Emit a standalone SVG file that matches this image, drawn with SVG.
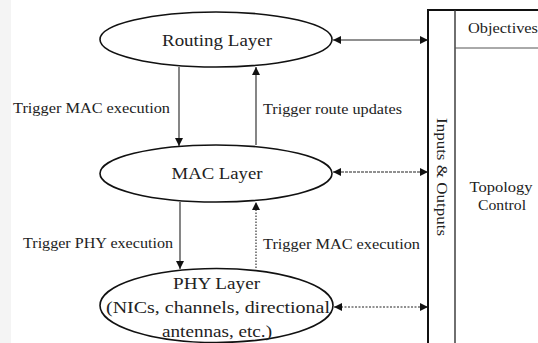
<svg xmlns="http://www.w3.org/2000/svg" width="538" height="343" viewBox="0 0 538 343">
<style>
text{font-family:"Liberation Serif","Times New Roman",serif;fill:#222}
.lbl{font-size:14px}
.big{font-size:16px}
.node{fill:#fff;stroke:#111;stroke-width:1.6}
.ln{stroke:#222;stroke-width:1.1;fill:none}
</style>
<defs>
<marker id="ah" viewBox="0 0 10 10" refX="10" refY="5" markerWidth="9" markerHeight="8" markerUnits="userSpaceOnUse" orient="auto-start-reverse">
<path d="M0,0 L10,5 L0,10 z" fill="#111"/>
</marker>
</defs>
<rect x="0" y="0" width="538" height="343" fill="#fff"/>
<rect x="0" y="0" width="11" height="343" fill="#f4f4f4"/>

<g id="side-panel">
<line x1="428" y1="10" x2="428" y2="343" stroke="#111" stroke-width="2"/>
<line x1="427" y1="10" x2="538" y2="10" stroke="#111" stroke-width="1.8"/>
<line x1="455" y1="10" x2="455" y2="343" stroke="#333" stroke-width="1.4"/>
<line x1="455" y1="48" x2="538" y2="48" stroke="#555" stroke-width="1"/>
<text class="lbl" x="468" y="33" textLength="70" lengthAdjust="spacingAndGlyphs">Objectives</text>
<text class="lbl" transform="translate(437,177) rotate(90)" text-anchor="middle" textLength="118" lengthAdjust="spacingAndGlyphs">Inputs &amp; Outputs</text>
<text class="lbl" x="501" y="192" text-anchor="middle" textLength="63" lengthAdjust="spacingAndGlyphs">Topology</text>
<text class="lbl" x="502" y="210" text-anchor="middle" textLength="48" lengthAdjust="spacingAndGlyphs">Control</text>
</g>

<g id="routing">
<ellipse class="node" cx="216" cy="39.5" rx="116" ry="27.5"/>
<text class="big" x="217" y="46" text-anchor="middle" textLength="110" lengthAdjust="spacingAndGlyphs">Routing Layer</text>
</g>

<g id="mac">
<ellipse class="node" cx="216" cy="173.5" rx="116" ry="28.5"/>
<text class="big" x="217" y="179" text-anchor="middle" textLength="91" lengthAdjust="spacingAndGlyphs">MAC Layer</text>
</g>

<g id="phy">
<ellipse class="node" cx="216.5" cy="305.5" rx="116.5" ry="37"/>
<text class="big" x="216.5" y="289" text-anchor="middle" textLength="87" lengthAdjust="spacingAndGlyphs">PHY Layer</text>
<text class="big" x="218" y="313" text-anchor="middle" textLength="224" lengthAdjust="spacingAndGlyphs">(NICs, channels, directional</text>
<text class="big" x="217" y="337" text-anchor="middle" textLength="110" lengthAdjust="spacingAndGlyphs">antennas, etc.)</text>
</g>

<g id="connectors">
<line class="ln" x1="179" y1="67" x2="179" y2="146" marker-end="url(#ah)"/>
<line class="ln" x1="256" y1="145" x2="256" y2="67" marker-end="url(#ah)" stroke="#555"/>
<line class="ln" x1="180" y1="202" x2="180" y2="269" marker-end="url(#ah)"/>
<line class="ln" x1="256" y1="268" x2="256" y2="202" marker-end="url(#ah)" stroke="#888" stroke-dasharray="1.5,1.5"/>
<line class="ln" x1="333" y1="40" x2="428" y2="40" marker-start="url(#ah)" marker-end="url(#ah)"/>
<line class="ln" x1="333" y1="172" x2="428" y2="172" stroke="#333" stroke-width="1.6" stroke-dasharray="3,1" marker-start="url(#ah)" marker-end="url(#ah)"/>
<line class="ln" x1="334" y1="307" x2="428" y2="307" stroke="#999" stroke-width="1" stroke-dasharray="2,1.5" marker-start="url(#ah)" marker-end="url(#ah)"/>
<text class="lbl" x="13" y="113" textLength="157" lengthAdjust="spacingAndGlyphs">Trigger MAC execution</text>
<text class="lbl" x="263" y="114" textLength="139" lengthAdjust="spacingAndGlyphs">Trigger route updates</text>
<text class="lbl" x="23" y="248" textLength="150" lengthAdjust="spacingAndGlyphs">Trigger PHY execution</text>
<text class="lbl" x="263" y="249" textLength="157" lengthAdjust="spacingAndGlyphs">Trigger MAC execution</text>
</g>
</svg>
